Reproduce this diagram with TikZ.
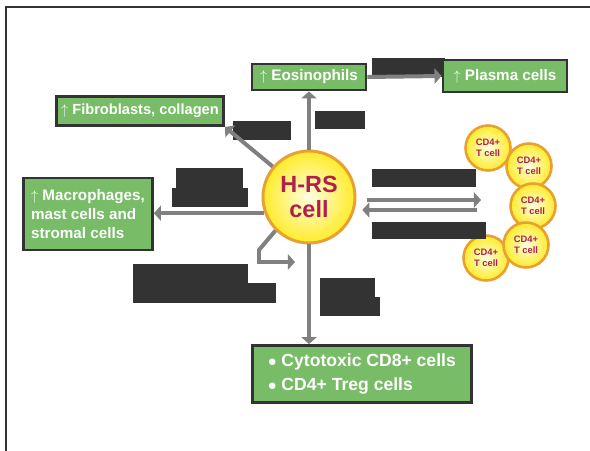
\documentclass[tikz,border=0pt]{standalone}
\usepackage{fontspec}
\setmainfont{Liberation Sans}
\usetikzlibrary{arrows.meta}

\definecolor{boxgreen}{HTML}{78BC67}
\definecolor{inkdark}{HTML}{333333}
\definecolor{linkgray}{HTML}{808080}
\definecolor{rimorange}{HTML}{E8A030}
\definecolor{coreyellow}{HTML}{FFEB2A}
\definecolor{hrsred}{HTML}{B0204A}
\newcommand\pxu{0.03cm}

\tikzset{
  cellbox/.style={draw=inkdark, line width=2.5pt, fill=boxgreen, text=white,
    font=\bfseries\fontsize{13}{16}\selectfont, align=left, inner sep=2pt},
  redact/.style={fill=inkdark, inner sep=0pt},
  link/.style={draw=linkgray, line width=3.4pt, -{Triangle[length=6pt,width=13pt]}},
  bigcell/.style={circle, draw=rimorange, line width=2.5pt, inner color=yellow!12,
    outer color=coreyellow, text=hrsred, font=\bfseries\fontsize{20}{21}\selectfont,
    align=center, inner sep=0pt, minimum size=92*\pxu},
  tcell/.style={bigcell, line width=2.2pt, font=\bfseries\fontsize{8}{9}\selectfont,
    minimum size=45*\pxu},
}

\begin{document}
\begin{tikzpicture}[x=\pxu, y=-\pxu]
  \useasboundingbox (0,0) rectangle (590,451);
  \fill[white] (0,0) rectangle (590,451);
  \draw[inkdark, line width=1.2pt] (6,451) -- (6,7) -- (590,7);

  % central cell
  \node[bigcell] (hrs) at (309,197) {H-RS\\cell};

  % target boxes
  \node[redact, minimum width=73*\pxu, minimum height=19*\pxu] (tagTR) at (408.5,67.5) {};
  \node[cellbox, minimum width=114*\pxu, minimum height=26*\pxu] (eos) at (309,77) {$\uparrow$ Eosinophils};
  \node[cellbox, minimum width=124*\pxu, minimum height=32*\pxu] (plasma) at (505,76) {$\uparrow$ Plasma cells};
  \node[cellbox, minimum width=167*\pxu, minimum height=29*\pxu,
    font=\bfseries\fontsize{12.5}{15}\selectfont] (dc) at (140,111) {$\uparrow$ Fibroblasts, collagen};
  \node[cellbox, minimum width=129*\pxu, minimum height=72*\pxu] (stroma) at (88,214)
    {$\uparrow$ Macrophages,\\mast cells and\\stromal cells};
  \node[cellbox, minimum width=219*\pxu, minimum height=57*\pxu,
    font=\bfseries\fontsize{15}{20}\selectfont] (cd8) at (362,374)
    {$\bullet$ Cytotoxic CD8+ cells\\$\bullet$ CD4+ Treg cells};

  % rosette of small cells
  \node[tcell] (t1) at (488,148) {CD4+\\T cell};
  \node[tcell] (t2) at (529,166) {CD4+\\T cell};
  \node[tcell] (t3) at (533,206) {CD4+\\T cell};
  \node[tcell] (t5) at (486,258) {CD4+\\T cell};
  \node[tcell] (t4) at (526,245) {CD4+\\T cell};

  % label blocks
  \node[redact, minimum width=50*\pxu, minimum height=18*\pxu] (tagUp) at (340,120) {};
  \node[redact, minimum width=58*\pxu, minimum height=19*\pxu] (tagDC) at (262,130.5) {};
  \node[redact, minimum width=67*\pxu, minimum height=20*\pxu] (tagLa) at (209.5,178) {};
  \node[redact, minimum width=76*\pxu, minimum height=19*\pxu] (tagLb) at (210,197.5) {};
  \node[redact, minimum width=115*\pxu, minimum height=19*\pxu] (tagLoopA) at (190.5,273.5) {};
  \node[redact, minimum width=143*\pxu, minimum height=20*\pxu] (tagLoopB) at (204.5,293) {};
  \node[redact, minimum width=55*\pxu, minimum height=19*\pxu] (tagDnA) at (347.5,287.5) {};
  \node[redact, minimum width=60*\pxu, minimum height=19*\pxu] (tagDnB) at (350,306.5) {};
  \node[redact, minimum width=104*\pxu, minimum height=18*\pxu] (tagRA) at (424,178) {};
  \node[redact, minimum width=114*\pxu, minimum height=17*\pxu] (tagRB) at (429,230.5) {};

  % connectors
  \coordinate (loopA) at (259,250);
  \coordinate (loopB) at (259,262);
  \coordinate (loopEnd) at (295,262);
  \coordinate (toR) at (481,200);
  \coordinate (fromR) at (477,210);

  \draw[link] (hrs) -- (eos);
  \draw[link] (eos.east) -- (plasma.west);
  \draw[link] (hrs.140) -- (dc.south east);
  \draw[link] (hrs.200) -- (stroma.east |- hrs.200);
  \draw[link] (hrs.225) -- (loopA) -- (loopB) -- (loopEnd);
  \draw[link] (hrs.south) -- (hrs.south |- cd8.north);
  \draw[link, shorten <=9pt] (hrs.east |- toR) -- (toR);
  \draw[link, shorten >=5pt] (fromR) -- (hrs.east |- fromR);

\end{tikzpicture}
\end{document}
